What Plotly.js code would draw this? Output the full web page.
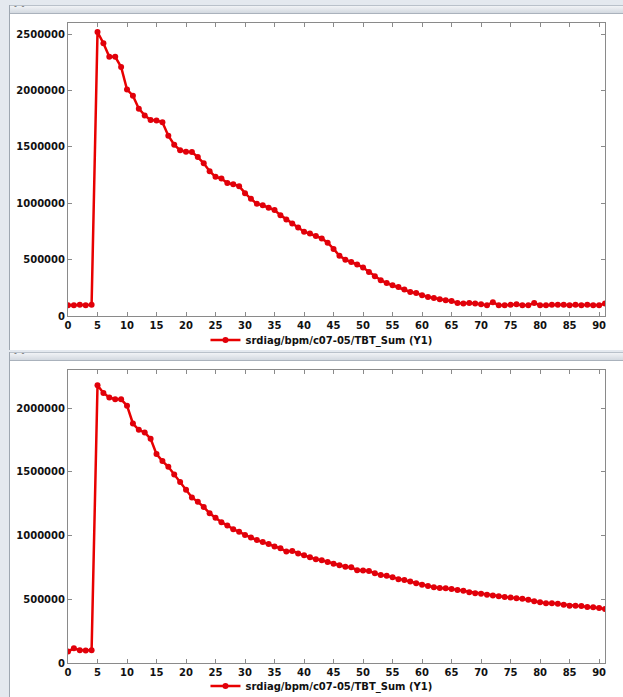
<!DOCTYPE html>
<html>
<head>
<meta charset="utf-8">
<script src="https://cdn.plot.ly/plotly-3.0.1.min.js"></script>
<style>
  html, body { margin:0; padding:0; }
  body { width:623px; height:697px; background:#e4e9ef; position:relative; overflow:hidden; font-family:"DejaVu Sans", sans-serif; }
  .win { position:absolute; background:#ffffff; border-left:1px solid #9ea7b1; box-sizing:border-box; }
  .bar { position:absolute; left:0; top:0; right:0; height:9px; background:linear-gradient(#f1f3f6,#d3d9e0); border-top:1px solid #b9c1ca; border-bottom:1px solid #aab2bc; box-sizing:border-box; }
  .bar span { position:absolute; left:4px; top:-4px; font-size:8px; color:#666; letter-spacing:1px; }
  .plot { position:absolute; left:0; }
</style>
</head>
<body>
<div class="win" id="w1" style="left:9px; top:5px; width:614px; height:345px;">
  <div class="bar"><span>- -</span></div>
  <div class="plot" id="p1" style="top:10px; width:613px; height:335px;"></div>
</div>
<div class="win" id="w2" style="left:9px; top:352px; width:614px; height:345px;">
  <div class="bar"><span>- -</span></div>
  <div class="plot" id="p2" style="top:9px; width:613px; height:336px;"></div>
</div>
<script>
const seriesName = "srdiag/bpm/c07-05/TBT_Sum (Y1)";
const xIndex = [0,1,2,3,4,5,6,7,8,9,10,11,12,13,14,15,16,17,18,19,20,21,22,23,24,25,26,27,28,29,30,31,32,33,34,35,36,37,38,39,40,41,42,43,44,45,46,47,48,49,50,51,52,53,54,55,56,57,58,59,60,61,62,63,64,65,66,67,68,69,70,71,72,73,74,75,76,77,78,79,80,81,82,83,84,85,86,87,88,89,90,91];
const topSum = [95000,95000,100000,95000,100000,2520000,2420000,2300000,2300000,2210000,2010000,1955000,1840000,1780000,1740000,1735000,1720000,1600000,1520000,1470000,1458000,1455000,1410000,1355000,1285000,1235000,1220000,1180000,1170000,1152000,1090000,1040000,995000,983000,960000,940000,895000,856000,820000,785000,748000,732000,710000,688000,650000,595000,535000,500000,480000,457000,430000,390000,353000,317000,293000,273000,258000,235000,213000,204000,184000,169000,160000,148000,139000,133000,116000,110000,116000,110000,104000,95000,122000,95000,95000,100000,104000,95000,95000,116000,95000,95000,100000,100000,100000,95000,100000,95000,100000,95000,95000,110000];
const bottomSum = [90000,115000,100000,98000,100000,2180000,2120000,2085000,2070000,2070000,2020000,1880000,1830000,1810000,1760000,1640000,1585000,1540000,1480000,1420000,1360000,1300000,1265000,1225000,1175000,1140000,1105000,1080000,1050000,1030000,1005000,985000,965000,950000,935000,915000,900000,875000,880000,860000,845000,830000,815000,807000,793000,780000,768000,756000,752000,728000,727000,722000,705000,690000,684000,673000,658000,652000,640000,627000,614000,605000,595000,588000,586000,580000,574000,567000,555000,548000,543000,536000,530000,523000,518000,514000,509000,504000,497000,485000,476000,470000,470000,465000,457000,450000,449000,448000,440000,438000,431000,423000];
const xTicks = [0,5,10,15,20,25,30,35,40,45,50,55,60,65,70,75,80,85,90];

const tickFont = {family:"DejaVu Sans", size:10, color:"#111111", weight:700};

function draw(id, yvals, ymax, h, topMargin, legendY) {
  const trace = {
    x: xIndex, y: yvals, type:"scatter", mode:"lines+markers", name: seriesName,
    line:{color:"rgb(232,0,0)", width:2.5},
    marker:{color:"rgb(225,0,10)", size:6, symbol:"circle"},
    showlegend:true
  };
  const axisCommon = {
    showline:true, mirror:"allticks", linecolor:"#8a8a8a", linewidth:1,
    ticks:"inside", ticklen:4, tickcolor:"#8a8a8a", tickwidth:1,
    showgrid:false, zeroline:false, tickfont:tickFont, automargin:false
  };
  const layout = {
    width:613, height:h,
    margin:{l:58, r:18, t:topMargin, b:34, pad:0, autoexpand:false},
    paper_bgcolor:"#ffffff", plot_bgcolor:"#ffffff",
    xaxis: Object.assign({}, axisCommon, {range:[0,91], tickmode:"array", tickvals:xTicks, ticktext:xTicks.map(String)}),
    yaxis: Object.assign({}, axisCommon, {range:[0,ymax], tick0:0, dtick:500000, tickformat:"d"}),
    showlegend:true,
    legend:{orientation:"h", x:0.256, xanchor:"left", yref:"container", y:legendY, yanchor:"middle",
            font:{family:"DejaVu Sans", size:10, color:"#111111", weight:700},
            bgcolor:"rgba(0,0,0,0)", borderwidth:0}
  };
  Plotly.newPlot(id, [trace], layout, {staticPlot:true, displayModeBar:false});
}
draw("p1", topSum, 2600000, 335, 8, 0.03);
draw("p2", bottomSum, 2300000, 336, 9, 0.033);
</script>
</body>
</html>
